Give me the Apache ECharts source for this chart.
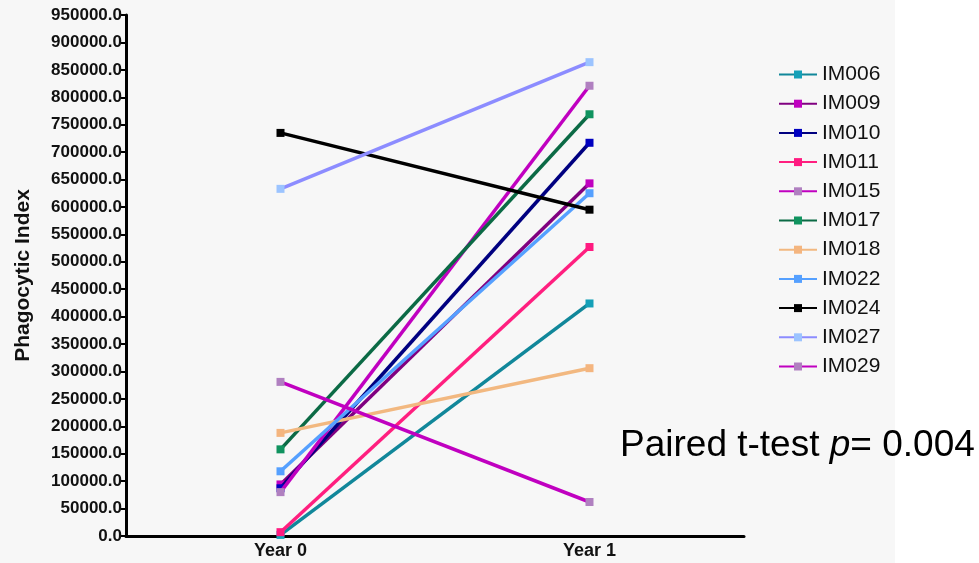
<!DOCTYPE html>
<html>
<head>
<meta charset="utf-8">
<script src="https://cdn.jsdelivr.net/npm/echarts@6/dist/echarts.min.js"></script>
<style>
html,body{margin:0;padding:0;background:#fff;}
#chart{width:979px;height:563px;background:linear-gradient(to right,#f7f7f7 895px,#ffffff 895px);}
</style>
</head>
<body>
<div id="chart"></div>
<script>
const categories = ['Year 0', 'Year 1'];
const subjects = ['IM006','IM009','IM010','IM011','IM015','IM017','IM018','IM022','IM024','IM027','IM029'];
const IM006 = [2000, 424000];
const IM009 = [94000, 643000];
const IM010 = [87000, 717000];
const IM011 = [7000, 527000];
const IM015 = [80000, 821000];
const IM017 = [158000, 769000];
const IM018 = [188000, 306000];
const IM022 = [118000, 625000];
const IM024 = [735000, 595000];
const IM027 = [633000, 864000];
const IM029 = [281000, 62000];
const yTicks = [0, 950000, 50000];

const values = {IM006, IM009, IM010, IM011, IM015, IM017, IM018, IM022, IM024, IM027, IM029};
const lineColors = {IM006:'#11879a', IM009:'#800080', IM010:'#000080', IM011:'#ff1f7f', IM015:'#c000c0', IM017:'#0b6a45', IM018:'#f2b880', IM022:'#55a0ff', IM024:'#000000', IM027:'#8c8cff', IM029:'#c000c0'};
const markColors = {IM006:'#14a0b8', IM009:'#c000c0', IM010:'#0000c0', IM011:'#ff1a80', IM015:'#b080c0', IM017:'#10935f', IM018:'#f4b57f', IM022:'#55a0ff', IM024:'#000000', IM027:'#9cc4ff', IM029:'#b080c0'};

const chart = echarts.init(document.getElementById('chart'), null, {renderer:'canvas'});
const series = subjects.map((s, i) => ({
  name: s,
  type: 'line',
  data: values[s],
  symbol: 'rect',
  symbolSize: 8,
  lineStyle: {color: lineColors[s], width: 3.5},
  itemStyle: {color: markColors[s]},
  z: 2 + i
}));
chart.setOption({
  animation: false,
  grid: {left: 126, right: 235, top: 15, bottom: 27, containLabel: false},
  xAxis: {
    type: 'category',
    data: categories,
    boundaryGap: true,
    axisLine: {lineStyle: {color: '#000', width: 3}},
    axisTick: {alignWithLabel: true, length: 6, lineStyle: {color:'#000', width: 2}, interval: 0},
    axisLabel: {color: '#111', fontWeight: 'bold', fontSize: 18, fontFamily: 'Liberation Sans, Arial', margin: 6}
  },
  yAxis: {
    type: 'value',
    min: yTicks[0], max: yTicks[1], interval: yTicks[2],
    name: 'Phagocytic Index',
    nameLocation: 'middle',
    nameGap: 92,
    nameTextStyle: {color: '#111', fontWeight: 'bold', fontSize: 21, fontFamily: 'Liberation Sans, Arial'},
    axisLine: {show: true, lineStyle: {color: '#000', width: 3}},
    axisTick: {show: true, length: 5, lineStyle: {color: '#000', width: 2}},
    splitLine: {show: false},
    axisLabel: {color: '#111', fontWeight: 'bold', fontSize: 17, fontFamily: 'Liberation Sans, Arial', margin: 4,
      formatter: v => v.toFixed(1)}
  },
  legend: {
    orient: 'vertical',
    left: 773, top: 59,
    itemWidth: 38, itemHeight: 10, itemGap: 8.2,
    textStyle: {color: '#111', fontSize: 21, fontFamily: 'Liberation Sans, Arial'},
    data: subjects
  },
  graphic: [{
    type: 'text',
    left: 620, top: 427,
    style: {
      text: '{a|Paired t-test }{b|p}{a|= 0.004}',
      rich: {
        a: {fontSize: 37, fontFamily: 'Liberation Sans, Arial', fill: '#000'},
        b: {fontSize: 37, fontFamily: 'Liberation Sans, Arial', fontStyle: 'italic', fill: '#000'}
      }
    }
  }],
  series: series
});
</script>
</body>
</html>
